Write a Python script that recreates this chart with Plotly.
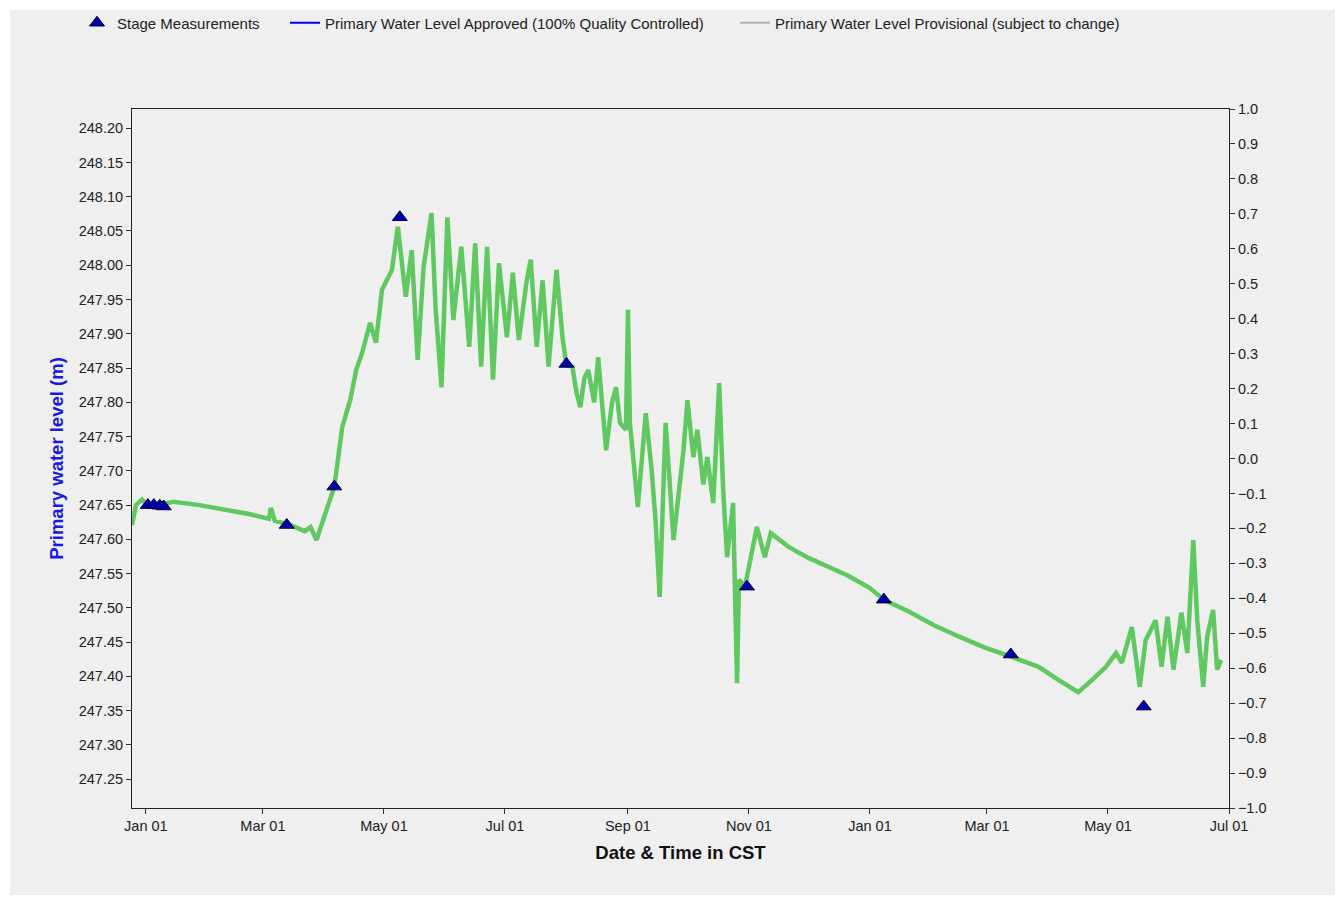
import plotly.graph_objects as go

# ---- data ----
level_dates = [
    "2012-12-25", "2012-12-27", "2012-12-30", "2013-01-02", "2013-01-08", "2013-01-15",
    "2013-01-28", "2013-02-10", "2013-02-22", "2013-03-04", "2013-03-05", "2013-03-07",
    "2013-03-14", "2013-03-22", "2013-03-25", "2013-03-28", "2013-04-01", "2013-04-06",
    "2013-04-10", "2013-04-14", "2013-04-17", "2013-04-20", "2013-04-24", "2013-04-27",
    "2013-04-30", "2013-05-05", "2013-05-08", "2013-05-10", "2013-05-12", "2013-05-15",
    "2013-05-18", "2013-05-21", "2013-05-25", "2013-05-27", "2013-05-30", "2013-06-02",
    "2013-06-05", "2013-06-09", "2013-06-13", "2013-06-16", "2013-06-19", "2013-06-22",
    "2013-06-25", "2013-06-28", "2013-07-02", "2013-07-05", "2013-07-08", "2013-07-12",
    "2013-07-14", "2013-07-17", "2013-07-20", "2013-07-23", "2013-07-27", "2013-07-30",
    "2013-08-01", "2013-08-04", "2013-08-06", "2013-08-08", "2013-08-10", "2013-08-12",
    "2013-08-15", "2013-08-17", "2013-08-19", "2013-08-21", "2013-08-24", "2013-08-26",
    "2013-08-28", "2013-08-31", "2013-09-01", "2013-09-02", "2013-09-06", "2013-09-10",
    "2013-09-13", "2013-09-15", "2013-09-17", "2013-09-20", "2013-09-24", "2013-09-29",
    "2013-10-01", "2013-10-04", "2013-10-06", "2013-10-09", "2013-10-11", "2013-10-14",
    "2013-10-17", "2013-10-19", "2013-10-21", "2013-10-24", "2013-10-26", "2013-10-27",
    "2013-10-30", "2013-11-02", "2013-11-05", "2013-11-09", "2013-11-12", "2013-11-21",
    "2013-12-01", "2013-12-11", "2013-12-21", "2014-01-01", "2014-01-08", "2014-01-21",
    "2014-02-02", "2014-02-15", "2014-02-28", "2014-03-13", "2014-03-27", "2014-04-06",
    "2014-04-16", "2014-04-23", "2014-04-30", "2014-05-05", "2014-05-08", "2014-05-13",
    "2014-05-17", "2014-05-20", "2014-05-25", "2014-05-28", "2014-05-31", "2014-06-03",
    "2014-06-07", "2014-06-10", "2014-06-13", "2014-06-15", "2014-06-18", "2014-06-20",
    "2014-06-23", "2014-06-25", "2014-06-27",
]
level_values = [
    247.621, 247.650, 247.658, 247.650, 247.650, 247.655,
    247.650, 247.644, 247.637, 247.630, 247.646, 247.627,
    247.622, 247.612, 247.618, 247.599, 247.636, 247.677,
    247.764, 247.803, 247.847, 247.872, 247.916, 247.887,
    247.964, 247.993, 248.056, 248.008, 247.954, 248.022,
    247.862, 247.998, 248.076, 247.939, 247.822, 248.070,
    247.920, 248.027, 247.881, 248.032, 247.852, 248.027,
    247.833, 248.003, 247.895, 247.989, 247.891, 247.978,
    248.008, 247.881, 247.978, 247.852, 247.993, 247.895,
    247.854, 247.852, 247.815, 247.793, 247.835, 247.847,
    247.800, 247.866, 247.790, 247.730, 247.800, 247.822,
    247.770, 247.760, 247.935, 247.770, 247.647, 247.784,
    247.700, 247.624, 247.516, 247.770, 247.599, 247.730,
    247.803, 247.720, 247.760, 247.680, 247.720, 247.653,
    247.828, 247.672, 247.574, 247.653, 247.390, 247.541,
    247.531, 247.574, 247.618, 247.574, 247.609, 247.589,
    247.573, 247.560, 247.547, 247.529, 247.512, 247.494,
    247.475, 247.458, 247.442, 247.429, 247.414, 247.395,
    247.377, 247.395, 247.414, 247.434, 247.420, 247.472,
    247.385, 247.453, 247.482, 247.414, 247.487, 247.410,
    247.493, 247.434, 247.599, 247.482, 247.385, 247.458,
    247.497, 247.410, 247.424,
]

stage_dates = ["2013-01-02", "2013-01-05", "2013-01-08", "2013-01-10", "2013-03-13",
               "2013-04-06", "2013-05-09", "2013-08-01", "2013-10-31", "2014-01-08",
               "2014-03-13", "2014-05-19"]
stage_values = [247.650, 247.650, 247.649, 247.648, 247.621,
                247.677, 248.070, 247.856, 247.531, 247.512,
                247.432, 247.356]

left_range = [247.208, 248.228]
right_range = [-1.0, 1.0]
x_range = ["2012-12-25", "2014-07-01"]

legend_names = ["Stage Measurements",
                "Primary Water Level Approved (100% Quality Controlled)",
                "Primary Water Level Provisional (subject to change)"]

FONT = "Liberation Sans, Arial, sans-serif"

fig = go.Figure()

fig.add_trace(go.Scatter(
    x=level_dates, y=level_values, mode="lines",
    line=dict(color="rgb(96,200,96)", width=4.5),
    showlegend=False, hoverinfo="skip"))

fig.add_trace(go.Scatter(
    x=stage_dates, y=stage_values, mode="markers", name=legend_names[0],
    marker=dict(symbol="triangle-up", size=13, color="#0000a8",
                line=dict(color="#000040", width=1)),
    legend="legend"))

fig.add_trace(go.Scatter(
    x=[None], y=[None], mode="lines", name=legend_names[1],
    line=dict(color="#0000ff", width=2), legend="legend2"))

fig.add_trace(go.Scatter(
    x=[None], y=[None], mode="lines", name=legend_names[2],
    line=dict(color="#b0b0b0", width=2), legend="legend3"))

# invisible trace to anchor the right axis
fig.add_trace(go.Scatter(
    x=x_range, y=right_range, yaxis="y2", mode="lines",
    line=dict(width=0, color="rgba(0,0,0,0)"), showlegend=False, hoverinfo="skip"))

W, H = 1341, 899
L, R, T, B = 132, 1341 - 1229, 109, 899 - 808
pw = W - L - R
ph = H - T - B

def px_to_paper_x(px):
    return (px - L) / pw

legend_common = dict(orientation="h", yanchor="middle", y=1 + (109 - 23) / ph,
                     xanchor="left", bgcolor="rgba(0,0,0,0)",
                     font=dict(family=FONT, size=15, color="#222"))

tickfont = dict(family=FONT, size=14.5, color="#222")

fig.update_layout(
    width=W, height=H,
    margin=dict(l=L, r=R, t=T, b=B, autoexpand=False),
    paper_bgcolor="white",
    plot_bgcolor="#dcdcdc",
    font=dict(family=FONT, size=14, color="#222"),
    legend=dict(legend_common, x=px_to_paper_x(77)),
    legend2=dict(legend_common, x=px_to_paper_x(285)),
    legend3=dict(legend_common, x=px_to_paper_x(735)),
    xaxis=dict(
        range=x_range, type="date", tickformat="%b %d", dtick="M2", tick0="2013-01-01",
        ticks="outside", ticklen=5, tickcolor="#333", showline=True, linecolor="#222",
        linewidth=1, mirror=True, showgrid=False, zeroline=False,
        tickfont=tickfont,
        title=dict(text="<b>Date & Time in CST</b>", standoff=12,
                   font=dict(family=FONT, size=18.5, color="#111")),
    ),
    yaxis=dict(
        range=left_range, tick0=247.25, dtick=0.05, tickformat=".2f",
        ticks="outside", ticklen=5, tickcolor="#333", showline=True, linecolor="#222",
        linewidth=1, showgrid=False, zeroline=False,
        tickfont=tickfont,
        title=dict(text="<b>Primary water level (m)</b>", standoff=10,
                   font=dict(family=FONT, size=18.5, color="#1a1adf")),
    ),
    yaxis2=dict(
        range=right_range, overlaying="y", side="right", tick0=-1.0, dtick=0.1,
        tickformat=".1f", ticks="outside", ticklen=5, tickcolor="#333",
        showline=True, linecolor="#222", linewidth=1, showgrid=False, zeroline=False,
        tickfont=tickfont,
    ),
    shapes=[dict(type="rect", xref="paper", yref="paper", layer="below",
                 x0=-(L - 10) / pw, x1=1 + (R - 6) / pw,
                 y0=-(B - 4) / ph, y1=1 + (T - 10) / ph,
                 fillcolor="#efefef", line=dict(width=0))],
)

fig.write_html(
    "out.html",
    config={"displayModeBar": False},
    post_script="document.body.style.margin='0';document.body.style.overflow='hidden';",
)
